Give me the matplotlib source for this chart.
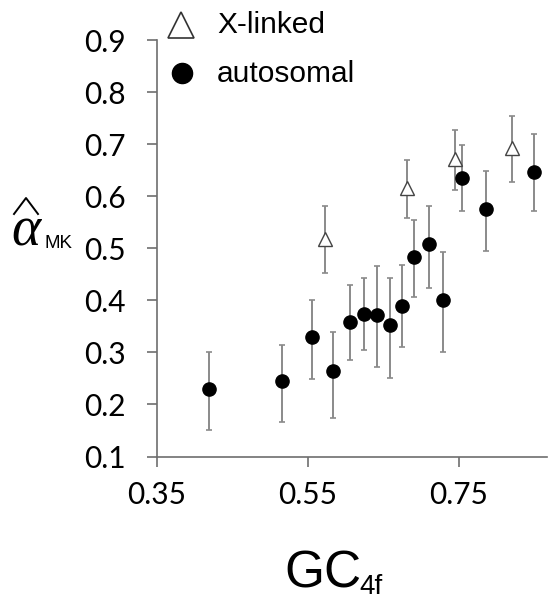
import matplotlib
matplotlib.use("Agg")
import matplotlib.pyplot as plt
from matplotlib.lines import Line2D

# autosomal points (GC4f, alpha_MK, lower/upper error bar ends)
auto_gc = [0.419, 0.516, 0.555, 0.583, 0.605, 0.624, 0.642, 0.658,
           0.675, 0.691, 0.710, 0.729, 0.754, 0.786, 0.849]
auto_alpha = [0.230, 0.245, 0.330, 0.264, 0.358, 0.374, 0.371, 0.353,
              0.389, 0.483, 0.509, 0.400, 0.635, 0.575, 0.647]
auto_lo = [0.150, 0.167, 0.249, 0.174, 0.285, 0.304, 0.272, 0.251,
           0.310, 0.407, 0.423, 0.300, 0.571, 0.494, 0.571]
auto_hi = [0.300, 0.315, 0.400, 0.339, 0.430, 0.443, 0.465, 0.443,
           0.467, 0.554, 0.582, 0.492, 0.699, 0.649, 0.720]

# X-linked points
xl_gc = [0.5725, 0.6815, 0.7447, 0.8198]
xl_alpha = [0.518, 0.615, 0.672, 0.692]
xl_lo = [0.452, 0.558, 0.6125, 0.627]
xl_hi = [0.582, 0.669, 0.728, 0.7535]

x_ticks = [0.35, 0.55, 0.75]
y_ticks = [0.1, 0.2, 0.3, 0.4, 0.5, 0.6, 0.7, 0.8, 0.9]

W, H = 548, 601
fig = plt.figure(figsize=(W / 100, H / 100), dpi=100)
ax = fig.add_axes([157 / W, (H - 456.5) / H, (547 - 157) / W, (456.5 - 40) / H])

err_col = "#8a8a8a"
spine_col = "#6e6e6e"


def yerr(vals, lo, hi):
    return [[v - l for v, l in zip(vals, lo)], [h - v for v, h in zip(vals, hi)]]


ax.errorbar(auto_gc, auto_alpha, yerr=yerr(auto_alpha, auto_lo, auto_hi),
            fmt="none", ecolor=err_col, elinewidth=1.4, capsize=2.5, capthick=1.2, zorder=2)
ax.errorbar(xl_gc, xl_alpha, yerr=yerr(xl_alpha, xl_lo, xl_hi),
            fmt="none", ecolor=err_col, elinewidth=1.4, capsize=2.5, capthick=1.2, zorder=2)
ax.plot(auto_gc, auto_alpha, "o", color="black", markersize=9.5, linestyle="none", zorder=3)
ax.plot(xl_gc, xl_alpha, "^", markerfacecolor="white", markeredgecolor="#444444",
        markeredgewidth=1.0, markersize=10, linestyle="none", zorder=3)

ax.set_xlim(0.35, 0.35 + (547 - 157) / 755)
ax.set_ylim(0.1, 0.9)
ax.set_xticks(x_ticks)
ax.set_yticks(y_ticks)
ax.set_xticklabels([f"{t:.2f}" for t in x_ticks])
ax.set_yticklabels([f"{t:.1f}" for t in y_ticks])

for s in ["top", "right"]:
    ax.spines[s].set_visible(False)
for s in ["left", "bottom"]:
    ax.spines[s].set_color(spine_col)
    ax.spines[s].set_linewidth(1.2)

ax.tick_params(axis="both", direction="out", length=7.5, width=1.2, color=spine_col,
               labelsize=21.5, labelcolor="black")
ax.tick_params(axis="y", pad=15)
ax.tick_params(axis="x", pad=10)
for lab in ax.get_xticklabels() + ax.get_yticklabels():
    lab.set_fontfamily("Lato")

# legend, drawn by hand in figure coordinates
fig.add_artist(Line2D([181 / W], [(H - 25) / H], marker="^", markersize=19,
                      markerfacecolor="white", markeredgecolor="#333333",
                      markeredgewidth=1.2, transform=fig.transFigure))
fig.add_artist(Line2D([182 / W], [(H - 73) / H], marker="o", markersize=14.5,
                      color="black", transform=fig.transFigure))
fig.text(217 / W, (H - 33) / H, "X-linked", fontsize=21.5,
         family="Liberation Sans", va="baseline", ha="left")
fig.text(217 / W, (H - 82) / H, "autosomal", fontsize=21.5,
         family="Liberation Sans", va="baseline", ha="left")

# y label: alpha hat with subscript MK
fig.text(11 / W, (H - 246) / H, "α", fontsize=40, style="italic",
         family="Liberation Serif", va="baseline", ha="left")
fig.text(45 / W, (H - 248) / H, "MK", fontsize=13.5,
         family="Liberation Sans", va="baseline", ha="left")
fig.add_artist(Line2D([14 / W, 26 / W, 38 / W], [(H - 214) / H, (H - 198) / H, (H - 214) / H],
                      color="black", linewidth=1.4, transform=fig.transFigure))

# x label
fig.text(284 / W, (H - 587) / H, "GC", fontsize=37,
         family="Liberation Sans", va="baseline", ha="left")
fig.text(359 / W, (H - 594) / H, "4f", fontsize=20,
         family="Liberation Sans", va="baseline", ha="left")

fig.savefig("out.png", dpi=100)
